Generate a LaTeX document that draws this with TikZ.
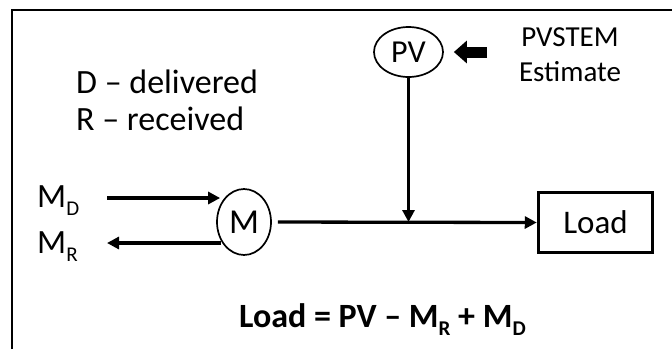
\documentclass[tikz,border=0pt]{standalone}
\usepackage{fontspec}
\setmainfont{Carlito}
\usetikzlibrary{shapes.geometric,arrows.meta}
\begin{document}
\begin{tikzpicture}[x=1pt,y=-1pt,
  fsz/.style={font=\fontsize{#1}{#1}\selectfont},
  circnode/.style={draw,ellipse,line width=1.7pt,inner sep=0pt},
  conn/.style={line width=3.3pt,-{Triangle[length=12pt,width=12pt]}},
  lbl/.style={anchor=base west,inner sep=0pt}]
\useasboundingbox (0,0) rectangle (672,349);
% frame
\draw[line width=2pt] (12,349) -- (12,10) -- (672,10);
% nodes
\node[circnode,minimum width=54pt,minimum height=66pt,fsz=35] (M) at (244,222) {M};
\node[circnode,minimum width=69pt,minimum height=50pt,fsz=32] (PV) at (408.5,52) {PV};
\node[draw,line width=3.5pt,minimum width=114pt,minimum height=60pt,fsz=33] (Load) at (595.5,222.5) {Load};
% labels
\node[lbl,fsz=34] (dlbl) at (76,93) {D – delivered};
\node[lbl,fsz=34] (rlbl) at (76,130) {R – received};
\node[fsz=29,align=center,inner sep=0pt] (pvstem) at (570,55) {PVSTEM\\[6pt]Estimate};
\node[lbl,fsz=34] (mdl) at (37,207) {M\raisebox{-8pt}{\fontsize{21}{21}\selectfont D}};
\node[lbl,fsz=34] (mrl) at (37,253) {M\raisebox{-8pt}{\fontsize{21}{21}\selectfont R}};
\node[lbl,fsz=34] (eq) at (239,327) {\bfseries Load = PV – M\raisebox{-8pt}{\fontsize{21}{21}\selectfont\bfseries R} + M\raisebox{-8pt}{\fontsize{21}{21}\selectfont\bfseries D}};
% coordinates
\coordinate (mdtail) at (107,198);
\coordinate (mrtip) at (107,243);
\coordinate (pvtail) at (487,52);
\coordinate (junc) at (PV.south |- M.east);
% connectors
\draw[conn,shorten >=-4pt] (mdtail) -- (mdtail -| M.west);
\draw[conn,shorten <=-5pt] (M.west |- mrtip) -- (mrtip);
\draw[conn,shorten <=6pt] (M.east) -- (Load.west);
\draw[conn] (PV.south) -- (junc);
\draw[line width=11pt,shorten >=10pt,-{Triangle[length=13pt,width=22pt]}] (pvtail) -- (PV.east);
\end{tikzpicture}
\end{document}
